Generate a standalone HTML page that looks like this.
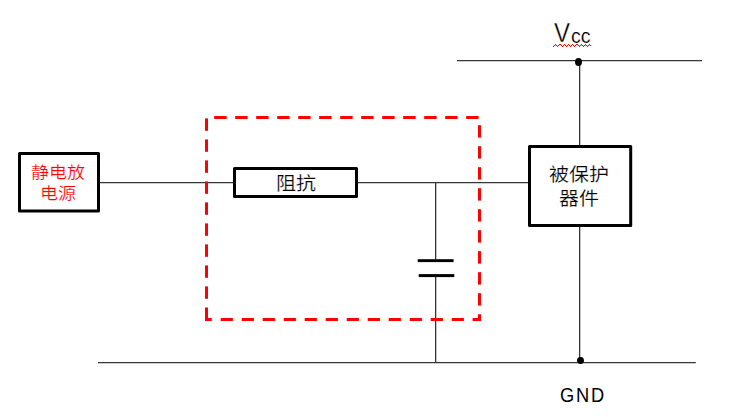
<!DOCTYPE html>
<html lang="zh-CN"><head><meta charset="utf-8">
<style>
html,body{margin:0;padding:0;background:#fff;width:733px;height:417px;overflow:hidden;}
body{position:relative;font-family:"Liberation Sans",sans-serif;}
svg{position:absolute;left:0;top:0;}
.t{position:absolute;white-space:nowrap;line-height:1;}
.c{transform:scaleY(0.9);transform-origin:50% 50%;-webkit-text-stroke:0.2px #fff;}
</style></head><body>
<svg width="733" height="417" viewBox="0 0 733 417">
<g stroke="#363636" stroke-width="1.3" fill="none">
<line x1="457" y1="60.55" x2="702" y2="60.55"/>
<line x1="98" y1="362.55" x2="695.8" y2="362.55"/>
<line x1="100" y1="182.65" x2="233" y2="182.65"/>
<line x1="358" y1="182.65" x2="528" y2="182.65"/>
<line x1="435.65" y1="182.65" x2="435.65" y2="259.5"/>
<line x1="435.65" y1="276.5" x2="435.65" y2="362.55"/>
<line x1="579.65" y1="60.55" x2="579.65" y2="146"/>
<line x1="579.65" y1="226" x2="579.65" y2="362.55"/>
</g>
<g fill="#000">
<ellipse cx="578.5" cy="62" rx="3.5" ry="3.9"/>
<ellipse cx="580.5" cy="360.5" rx="3.45" ry="3.4"/>
<rect x="417.7" y="259.2" width="35.9" height="2.9"/>
<rect x="418.7" y="274.1" width="35.6" height="3"/>
</g>
<g stroke="#000" stroke-width="3" fill="none" stroke-linejoin="round">
<rect x="19.5" y="153.5" width="79" height="57.5"/>
<rect x="234.5" y="168.5" width="122" height="28"/>
<rect x="529.5" y="146.5" width="101.2" height="79"/>
</g>
<g fill="#ff0000">
<rect x="214.2" y="116" width="12.4" height="3"/>
<rect x="235.2" y="116" width="12.4" height="3"/>
<rect x="256.2" y="116" width="12.4" height="3"/>
<rect x="277.2" y="116" width="12.4" height="3"/>
<rect x="298.2" y="116" width="12.4" height="3"/>
<rect x="319.2" y="116" width="12.4" height="3"/>
<rect x="340.2" y="116" width="12.4" height="3"/>
<rect x="361.2" y="116" width="12.4" height="3"/>
<rect x="382.2" y="116" width="12.4" height="3"/>
<rect x="403.2" y="116" width="12.4" height="3"/>
<rect x="424.2" y="116" width="12.4" height="3"/>
<rect x="445.2" y="116" width="12.4" height="3"/>
<rect x="466.2" y="116" width="12.4" height="3"/>
<rect x="478" y="125.2" width="3" height="12.4"/>
<rect x="478" y="146.2" width="3" height="12.4"/>
<rect x="478" y="167.2" width="3" height="12.4"/>
<rect x="478" y="188.2" width="3" height="12.4"/>
<rect x="478" y="209.2" width="3" height="12.4"/>
<rect x="478" y="230.2" width="3" height="12.4"/>
<rect x="478" y="251.2" width="3" height="12.4"/>
<rect x="478" y="272.2" width="3" height="12.4"/>
<rect x="478" y="293.2" width="3" height="12.4"/>
<rect x="220.7" y="318" width="12.2" height="3"/>
<rect x="241.7" y="318" width="12.2" height="3"/>
<rect x="262.7" y="318" width="12.2" height="3"/>
<rect x="283.7" y="318" width="12.2" height="3"/>
<rect x="304.7" y="318" width="12.2" height="3"/>
<rect x="325.7" y="318" width="12.2" height="3"/>
<rect x="346.7" y="318" width="12.2" height="3"/>
<rect x="367.7" y="318" width="12.2" height="3"/>
<rect x="388.7" y="318" width="12.2" height="3"/>
<rect x="409.7" y="318" width="12.2" height="3"/>
<rect x="430.7" y="318" width="12.2" height="3"/>
<rect x="451.7" y="318" width="12.2" height="3"/>
<rect x="205" y="118.4" width="3" height="12.4"/>
<rect x="205" y="139.4" width="3" height="12.4"/>
<rect x="205" y="160.4" width="3" height="12.4"/>
<rect x="205" y="181.4" width="3" height="12.4"/>
<rect x="205" y="202.4" width="3" height="12.4"/>
<rect x="205" y="223.4" width="3" height="12.4"/>
<rect x="205" y="244.4" width="3" height="12.4"/>
<rect x="205" y="265.4" width="3" height="12.4"/>
<rect x="205" y="286.4" width="3" height="12.4"/>
<path d="M478 314.2 H481 V321 H472.6 V318 H478 Z"/>
<path d="M205 307.4 H208 V318 H211.75 V321 H205 Z"/>
</g>
<g fill="#ff0000" shape-rendering="crispEdges"><rect x="553" y="46" width="1" height="1"/><rect x="554" y="45" width="1" height="1"/><rect x="555" y="44" width="1" height="1"/><rect x="556" y="45" width="1" height="1"/><rect x="557" y="46" width="1" height="1"/><rect x="558" y="45" width="1" height="1"/><rect x="559" y="44" width="1" height="1"/><rect x="560" y="44" width="1" height="1"/><rect x="561" y="45" width="1" height="1"/><rect x="562" y="46" width="1" height="1"/><rect x="563" y="45" width="1" height="1"/><rect x="564" y="44" width="1" height="1"/><rect x="565" y="45" width="1" height="1"/><rect x="566" y="46" width="1" height="1"/><rect x="567" y="45" width="1" height="1"/><rect x="568" y="44" width="1" height="1"/><rect x="569" y="45" width="1" height="1"/><rect x="570" y="46" width="1" height="1"/><rect x="571" y="45" width="1" height="1"/><rect x="572" y="44" width="1" height="1"/><rect x="573" y="45" width="1" height="1"/><rect x="574" y="46" width="1" height="1"/><rect x="575" y="45" width="1" height="1"/><rect x="576" y="44" width="1" height="1"/><rect x="577" y="44" width="1" height="1"/><rect x="578" y="45" width="1" height="1"/><rect x="579" y="46" width="1" height="1"/><rect x="580" y="45" width="1" height="1"/><rect x="581" y="44" width="1" height="1"/><rect x="582" y="45" width="1" height="1"/><rect x="583" y="46" width="1" height="1"/><rect x="584" y="45" width="1" height="1"/><rect x="585" y="44" width="1" height="1"/><rect x="586" y="45" width="1" height="1"/><rect x="587" y="46" width="1" height="1"/><rect x="588" y="45" width="1" height="1"/><rect x="589" y="44" width="1" height="1"/><rect x="590" y="45" width="1" height="1"/></g>
</svg>
<div class="t c" id="t1" style="left:31px;top:164.4px;font-size:18px;color:#f00;">静电放</div>
<div class="t c" id="t2" style="left:40px;top:184.8px;font-size:18px;color:#f00;">电源</div>
<div class="t c" id="t3" style="left:275.5px;top:174px;font-size:20px;color:#000;">阻抗</div>
<div class="t c" id="t4" style="left:548.5px;top:164.8px;font-size:20px;color:#000;">被保护</div>
<div class="t c" id="t5" style="left:559px;top:189px;font-size:20px;color:#000;">器件</div>
<div class="t" id="t6" style="left:553.5px;top:20.2px;font-size:27px;color:#000;transform:scaleX(0.89);transform-origin:0 0;-webkit-text-stroke:0.3px #fff;">V</div>
<div class="t" id="t7" style="left:571.3px;top:25.5px;font-size:20.5px;color:#000;transform:scaleX(0.95);transform-origin:0 0;-webkit-text-stroke:0.15px #fff;">cc</div>
<div class="t" id="g1" style="left:560px;top:384.4px;font-size:21px;color:#000;transform:scaleX(0.87);transform-origin:0 0;">G</div>
<div class="t" id="g2" style="left:575.5px;top:384.4px;font-size:21px;color:#000;transform:scaleX(0.87);transform-origin:0 0;">N</div>
<div class="t" id="g3" style="left:591px;top:384.4px;font-size:21px;color:#000;transform:scaleX(0.87);transform-origin:0 0;">D</div>
</body></html>
